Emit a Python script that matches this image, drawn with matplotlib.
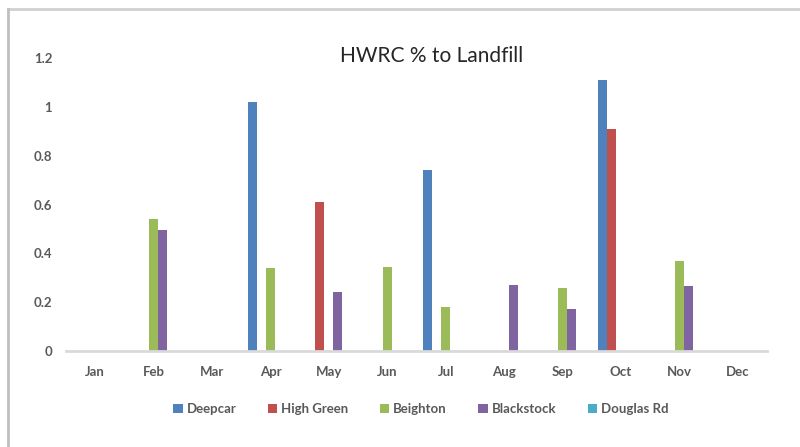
import numpy as np
import matplotlib.pyplot as plt
from matplotlib.lines import Line2D

months = ['Jan', 'Feb', 'Mar', 'Apr', 'May', 'Jun', 'Jul', 'Aug', 'Sep', 'Oct', 'Nov', 'Dec']
series = ['Deepcar', 'High Green', 'Beighton', 'Blackstock', 'Douglas Rd']
deepcar = [0, 0, 0, 1.02, 0, 0, 0.74, 0, 0, 1.11, 0, 0]
high_green = [0, 0, 0, 0, 0.61, 0, 0, 0, 0, 0.91, 0, 0]
beighton = [0, 0.54, 0, 0.34, 0, 0.345, 0.18, 0, 0.26, 0, 0.37, 0]
blackstock = [0, 0.495, 0, 0, 0.24, 0, 0, 0.27, 0.17, 0, 0.265, 0]
douglas_rd = [0, 0, 0, 0, 0, 0, 0, 0, 0, 0, 0, 0]
colors = ['#4F81BD', '#C0504D', '#9BBB59', '#8064A2', '#4BACC6']

plt.rcParams['font.family'] = ['Lato', 'DejaVu Sans']

fig = plt.figure(figsize=(8, 4.47), dpi=100)
ax = fig.add_axes([0.0825, 0.2148, 0.8763, 0.6552])

x = np.arange(len(months))
w = 0.155
for i, (name, vals) in enumerate(zip(series, [deepcar, high_green, beighton, blackstock, douglas_rd])):
    ax.bar(x + (i - 2) * w, vals, width=w, color=colors[i], label=name)

ax.set_xlim(-0.5, 11.5)
ax.set_ylim(0, 1.2)
ax.set_yticks(np.arange(0, 1.21, 0.2))
ax.set_yticklabels(['0', '0.2', '0.4', '0.6', '0.8', '1', '1.2'])
ax.set_xticks(x)
ax.set_xticklabels(months)
for s in ['top', 'right', 'left']:
    ax.spines[s].set_visible(False)
ax.spines['bottom'].set_color('#D9D9D9')
ax.spines['bottom'].set_linewidth(2)
ax.tick_params(axis='both', length=0, labelsize=9.5, labelcolor='#595959')
ax.tick_params(axis='y', pad=10)
ax.tick_params(axis='x', pad=11)
for lbl in ax.get_xticklabels() + ax.get_yticklabels():
    lbl.set_fontweight('bold')

fig.text(432 / 800, 1 - 56 / 447, 'HWRC % to Landfill', ha='center', va='center',
         fontsize=15, color='#262626')

leg = fig.legend(loc='center', bbox_to_anchor=(421 / 800, 1 - 409 / 447), ncol=5,
                 frameon=False, prop={'size': 9.5, 'weight': 'bold'},
                 handlelength=0.7, handleheight=0.7,
                 handletextpad=0.3, columnspacing=2.4)
for t in leg.get_texts():
    t.set_color('#595959')

# chart frame edges
fig.add_artist(Line2D([8 / 800, 1], [1 - 9 / 447, 1 - 9 / 447], color='#D0D0D0', lw=2))
fig.add_artist(Line2D([8 / 800, 8 / 800], [0, 1 - 9 / 447], color='#C0C0C0', lw=2))

fig.savefig('out.png', dpi=100)
